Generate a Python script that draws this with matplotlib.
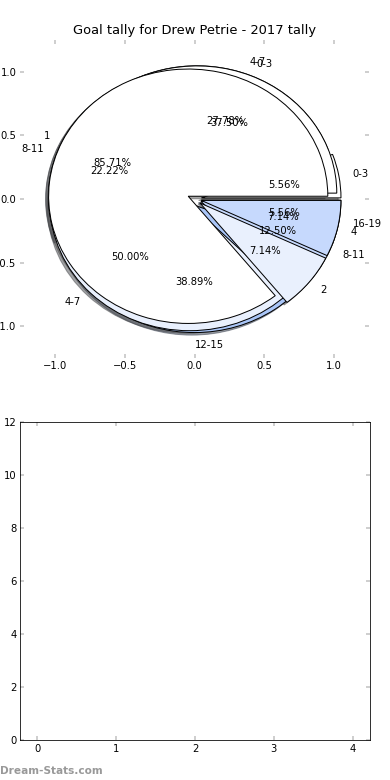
import matplotlib
matplotlib.use("Agg")
import matplotlib.pyplot as plt

# Data
quarter_labels = ["0-3", "4-7", "8-11", "12-15", "16-19"]
quarter_values = [1, 5, 4, 7, 1]
quarter2_labels = ["0-3", "4-7", "8-11"]
quarter2_values = [3, 4, 1]
tally_labels = ["1", "2", "4"]
tally_values = [12, 1, 1]
pie_colors = ["#ffffff", "#e9f0fd", "#c6d9fd", "#a9c5f7", "#8cb0ef"]
bar_xticks = [0, 1, 2, 3, 4]
bar_yticks = [0, 2, 4, 6, 8, 10, 12]

DPI = 72
fig = plt.figure(figsize=(390 / DPI, 780 / DPI), dpi=DPI)
plt.rcParams['font.size'] = 10

ax1 = fig.add_axes([20 / 390, 1 - 358 / 780, 349 / 390, 318 / 780])
for vals, labs, expl in [
    (quarter_values, quarter_labels, [0.05] * 5),
    (quarter2_values, quarter2_labels, [0.05] * 3),
    (tally_values, tally_labels, [0.05] * 3),
]:
    ax1.pie(vals, labels=labs, colors=pie_colors[:len(vals)], autopct='%1.2f%%',
            shadow=True, explode=expl, startangle=0,
            wedgeprops=dict(edgecolor='black', linewidth=1))
ax1.set_aspect('auto')
ax1.set_xlim(-1.25, 1.25)
ax1.set_ylim(-1.25, 1.25)
ax1.set_xticks([-1.0, -0.5, 0.0, 0.5, 1.0])
ax1.set_yticks([-1.0, -0.5, 0.0, 0.5, 1.0])
ax1.set_xticklabels(['\u22121.0', '\u22120.5', '0.0', '0.5', '1.0'])
ax1.set_yticklabels(['\u22121.0', '\u22120.5', '0.0', '0.5', '1.0'])
ax1.tick_params(direction='in', top=True, right=True, color='#c0c0c0', length=4, width=1.5, labelsize=10)
for s in ax1.spines.values():
    s.set_visible(False)
ax1.set_title("Goal tally for Drew Petrie - 2017 tally", fontsize=13, pad=6)

ax2 = fig.add_axes([20 / 390, 1 - 740 / 780, 350 / 390, 318 / 780])
ax2.set_xlim(-0.22, 4.22)
ax2.set_ylim(0, 12)
ax2.set_xticks(bar_xticks)
ax2.set_yticks(bar_yticks)
ax2.tick_params(direction='in', top=True, right=True, color='#c0c0c0', length=4, width=1.5, labelsize=10)
for s in ax2.spines.values():
    s.set_color('black')

fig.text(0.0, 1 - 771 / 780, "Dream-Stats.com", color='#999999', fontsize=10.5, va='center', ha='left', fontweight='bold')
fig.savefig("out.png", dpi=DPI)
